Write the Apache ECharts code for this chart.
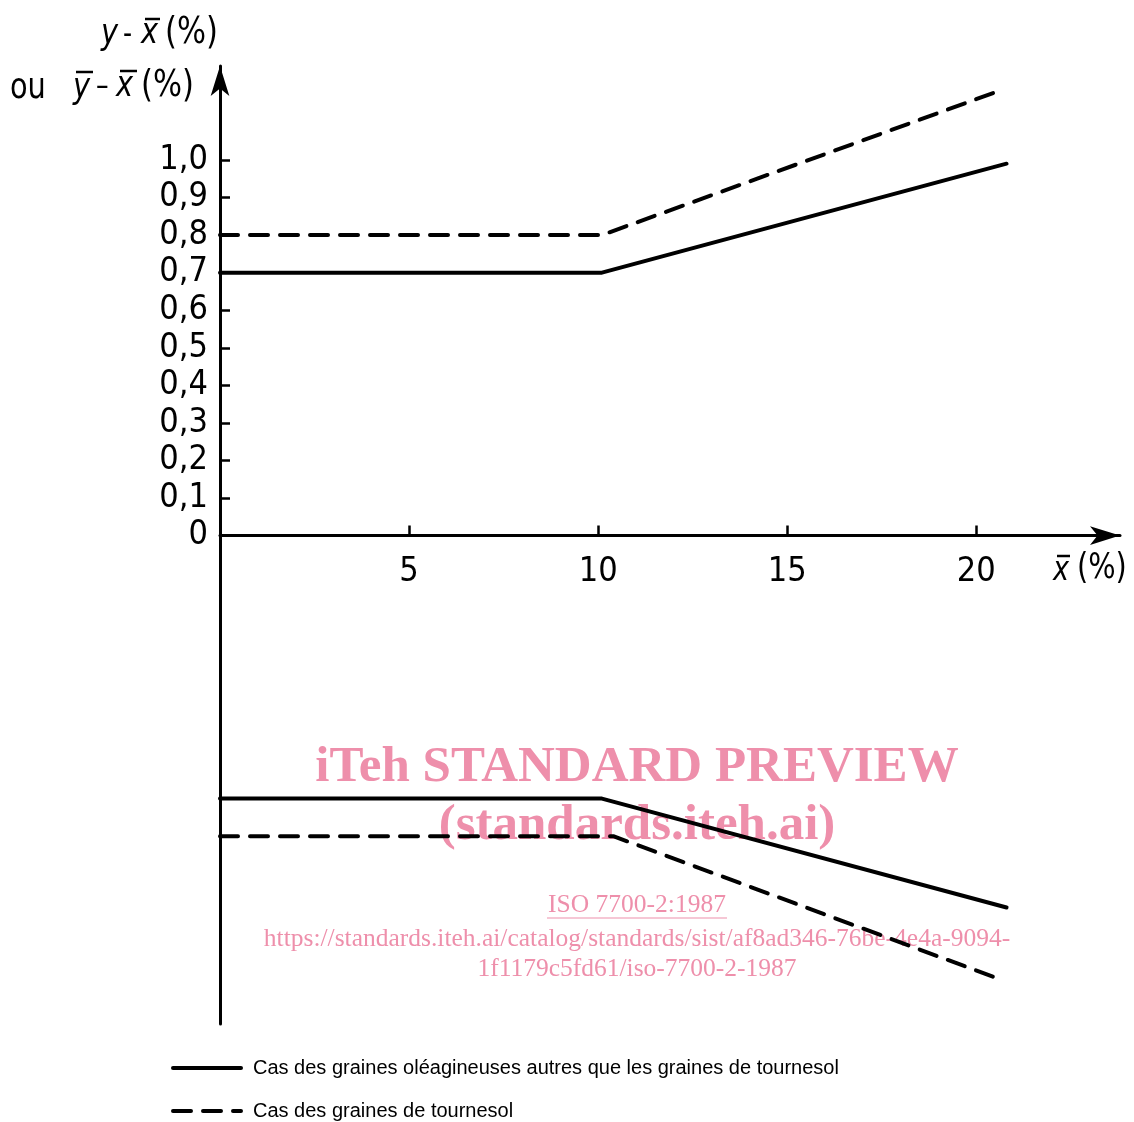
<!DOCTYPE html>
<html>
<head>
<meta charset="utf-8">
<script src="https://cdn.jsdelivr.net/npm/echarts@6/dist/echarts.min.js"></script>
<style>
html,body{margin:0;padding:0;background:#fff;}
#c{width:1134px;height:1122px;}
</style>
</head>
<body>
<div id="c"></div>
<script>
// ---- data ----
const xTickValues = [5, 10, 15, 20];
const yTickValues = [0, 0.1, 0.2, 0.3, 0.4, 0.5, 0.6, 0.7, 0.8, 0.9, 1.0];
const nameSolid = 'Cas des graines oléagineuses autres que les graines de tournesol';
const nameDashed = 'Cas des graines de tournesol';
const solidUpper = [[0, 0.7], [10.1, 0.7], [20.8, 0.99]];
const dashedUpper = [[0, 0.8], [10.1, 0.8], [20.5, 1.18]];
const solidLower = [[0, -0.7], [10.1, -0.7], [20.8, -0.99]];
const dashedLower = [[0, -0.8], [10.4, -0.8], [20.6, -1.18]];

const NUMFONT = '"Liberation Sans Narrow","DejaVu Sans Condensed",sans-serif';
const LBLFONT = '"DejaVu Sans Condensed","DejaVu Sans",sans-serif';
const PINK = '#ee8fab';

const Y_MIN = -1.3, Y_MAX = 1.25;
const GRID_TOP = 66, GRID_H = 958;
const X_AXIS_OFFSET = -GRID_H * (0 - Y_MIN) / (Y_MAX - Y_MIN);

const chart = echarts.init(document.getElementById('c'), null, {renderer: 'canvas'});

const solidStyle = {color: '#000', width: 4, type: 'solid', cap: 'round', join: 'round'};
const dashedStyle = {color: '#000', width: 4, type: [18, 12], cap: 'round', join: 'round'};

function lbl(text, x, y, opts) {
  opts = opts || {};
  return {
    type: 'text', x: x, y: y, z: 10,
    scaleY: opts.sy || 1.12,
    style: {
      text: text,
      fill: '#000',
      font: (opts.italic ? 'italic ' : '') + (opts.size || 30) + 'px ' + (opts.family || LBLFONT),
      textAlign: opts.align || 'left',
      textVerticalAlign: 'middle'
    }
  };
}
function bar(x1, x2, y) {
  return {type: 'line', z: 10, shape: {x1: x1, y1: y, x2: x2, y2: y}, style: {stroke: '#000', lineWidth: 2.5}};
}
function wm(text, x, y, font) {
  return {
    type: 'text', x: x, y: y, z: 0,
    style: {text: text, fill: PINK, font: font, textAlign: 'center', textVerticalAlign: 'middle'}
  };
}

const option = {
  backgroundColor: '#fff',
  animation: false,
  grid: {left: 220, top: GRID_TOP, width: 900, height: GRID_H, containLabel: false},
  xAxis: {
    type: 'value', min: 0, max: 23.8,
    offset: X_AXIS_OFFSET,
    axisLine: {onZero: false, symbol: ['none', 'arrow'], symbolSize: [14, 30],
      lineStyle: {color: '#000', width: 3}},
    axisTick: {show: true, inside: true, length: 10, customValues: xTickValues,
      lineStyle: {color: '#000', width: 2.5}},
    axisLabel: {show: true, customValues: xTickValues, color: '#000', fontSize: 34,
      fontFamily: NUMFONT, margin: 20},
    splitLine: {show: false}
  },
  yAxis: {
    type: 'value', min: Y_MIN, max: Y_MAX,
    axisLine: {onZero: false, symbol: ['none', 'arrow'], symbolSize: [14, 30],
      lineStyle: {color: '#000', width: 3}},
    axisTick: {show: true, inside: true, length: 10, customValues: yTickValues.slice(1),
      lineStyle: {color: '#000', width: 2.5}},
    axisLabel: {show: true, customValues: yTickValues, color: '#000', fontSize: 34,
      fontFamily: NUMFONT, margin: 12,
      formatter: function (v) { return v === 0 ? '0' : v.toFixed(1).replace('.', ','); }},
    splitLine: {show: false}
  },
  legend: {
    orient: 'vertical', left: 171, top: 1058, padding: 0,
    itemWidth: 68, itemHeight: 20, itemGap: 23,
    data: [nameSolid, nameDashed],
    textStyle: {color: '#000', fontSize: 20, fontFamily: '"Liberation Sans",Arial,sans-serif',
      padding: [0, 0, 0, 7]},
    lineStyle: {width: 4},
    itemStyle: {opacity: 0},
    selectedMode: false
  },
  series: [
    {name: nameSolid, type: 'line', data: solidUpper, showSymbol: false, symbol: 'none', lineStyle: solidStyle, z: 5},
    {name: nameDashed, type: 'line', data: dashedUpper, showSymbol: false, symbol: 'none', lineStyle: dashedStyle, z: 5},
    {name: nameSolid, type: 'line', data: solidLower, showSymbol: false, symbol: 'none', lineStyle: solidStyle, z: 5},
    {name: nameDashed, type: 'line', data: dashedLower, showSymbol: false, symbol: 'none', lineStyle: dashedStyle, z: 5}
  ],
  graphic: [
    // watermark
    wm('iTeh STANDARD PREVIEW', 637, 768, 'bold 51px "Liberation Serif","Times New Roman",serif'),
    wm('(standards.iteh.ai)', 637, 826, 'bold 51px "Liberation Serif","Times New Roman",serif'),
    wm('ISO 7700-2:1987', 637, 905, '25.5px "Liberation Serif","Times New Roman",serif'),
    {type: 'line', z: 0, shape: {x1: 547, y1: 918, x2: 727, y2: 918}, style: {stroke: PINK, lineWidth: 1.2}},
    wm('https://standards.iteh.ai/catalog/standards/sist/af8ad346-76be-4e4a-9094-', 637, 939, '25.5px "Liberation Serif","Times New Roman",serif'),
    wm('1f1179c5fd61/iso-7700-2-1987', 637, 969, '25.5px "Liberation Serif","Times New Roman",serif'),
    // y-axis title line 1: y - x̄ (%)
    lbl('y', 101, 35, {italic: true, size: 32}),
    lbl('-', 123, 36, {size: 28}),
    lbl('x', 141, 34, {italic: true, size: 32}),
    bar(145, 160, 19),
    lbl('(%)', 165, 33, {size: 34}),
    // line 2: ou ȳ - x̄ (%)
    lbl('ou', 10, 89, {size: 32}),
    lbl('y', 73, 89, {italic: true, size: 32}),
    bar(76, 93, 72),
    lbl('–', 96, 88, {size: 28}),
    lbl('x', 116, 87, {italic: true, size: 32}),
    bar(120, 137, 71),
    lbl('(%)', 141, 86, {size: 34}),
    // x-axis name: x̄ (%)
    lbl('x', 1053, 571, {italic: true, size: 30}),
    bar(1057, 1070, 556),
    lbl('(%)', 1077, 569, {size: 32})
  ]
};
chart.setOption(option);
</script>
</body>
</html>
